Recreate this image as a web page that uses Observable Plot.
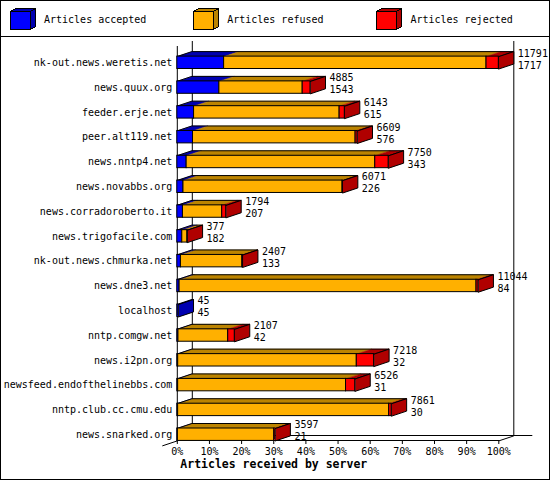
<!DOCTYPE html>
<html>
<head>
<meta charset="utf-8">
<script src="https://cdn.jsdelivr.net/npm/d3@7"></script>
<script src="https://cdn.jsdelivr.net/npm/@observablehq/plot@0.6"></script>
<style>
  html, body { margin: 0; padding: 0; background: #fff; }
  #wrap { width: 548px; height: 478px; border: 1px solid #000; background: #fff; position: relative; overflow: hidden; }
  #legend { height: 35px; border-bottom: 1px solid #000; position: relative; }
  .item svg { position: absolute; top: 6px; }
  .item span { position: absolute; top: 14px; font: 10px/10px "DejaVu Sans Mono", monospace; color: #000; white-space: pre; }
</style>
</head>
<body>
<div id="wrap">
  <div id="legend"></div>
  <div id="chart"></div>
</div>
<script>
// ---- data ----
const servers = [
  "nk-out.news.weretis.net", "news.quux.org", "feeder.erje.net", "peer.alt119.net",
  "news.nntp4.net", "news.novabbs.org", "news.corradoroberto.it", "news.trigofacile.com",
  "nk-out.news.chmurka.net", "news.dne3.net", "localhost", "nntp.comgw.net",
  "news.i2pn.org", "newsfeed.endofthelinebbs.com", "nntp.club.cc.cmu.edu", "news.snarked.org"
];
const totals   = [11791, 4885, 6143, 6609, 7750, 6071, 1794, 377, 2407, 11044, 45, 2107, 7218, 6526, 7861, 3597];
const accepted = [1717, 1543, 615, 576, 343, 226, 207, 182, 133, 84, 45, 42, 32, 31, 30, 21];
const refused  = [9624, 3056, 5338, 5963, 6917, 5835, 1440, 190, 2254, 10890, 0, 1825, 6551, 6157, 7741, 3536];
const rejected = [450, 286, 190, 70, 490, 10, 147, 5, 20, 70, 0, 240, 635, 338, 90, 40];
const seriesNames = ["Articles accepted", "Articles refused", "Articles rejected"];
const xTicks = [0, 10, 20, 30, 40, 50, 60, 70, 80, 90, 100];
const axisTitle = "Articles received by server";

// ---- style ----
const frontColors = ["#0000ff", "#ffb000", "#ff0000"];
const darkColors  = ["#0000b0", "#bc8400", "#b00000"];
const W = 548, H = 442, mL = 175.8, mR = 50.7, mT = 9, mB = 39;
const rowRange = [25.3, 397.2];
const depthPx = 15, risePx = 5, halfPx = 6.2;

// ---- legend ----
const legend = document.getElementById("legend");
seriesNames.forEach((name, k) => {
  const left = 8 + k * 183.2;
  const div = document.createElement("div");
  div.className = "item";
  div.innerHTML =
    `<svg width="30" height="24" style="left:${left}px" shape-rendering="crispEdges">
      <polygon points="1.5,4.5 21.5,4.5 26.5,1.5 6.5,1.5" fill="${darkColors[k]}" stroke="#000"/>
      <polygon points="21.5,4.5 26.5,1.5 26.5,19.5 21.5,22.5" fill="${darkColors[k]}" stroke="#000"/>
      <rect x="1.5" y="4.5" width="20" height="18" fill="${frontColors[k]}" stroke="#000"/>
    </svg><span style="left:${left + 35}px">${name}</span>`;
  legend.appendChild(div);
});

// ---- geometry derived from scales ----
const n = servers.length;
const maxTotal = d3.max(totals);
const dX = depthPx * 100 / (W - mL - mR);
const rowPx = (rowRange[1] - rowRange[0]) / (n - 1);
const dY = risePx / rowPx;
const hh = halfPx / rowPx;
const floorRow = (n - 1) + hh;

const fronts = [], tops = [], outlines = [], sides = [], labels = [];
servers.forEach((s, i) => {
  const vals = [accepted[i], refused[i], rejected[i]];
  let acc = 0, last = 0;
  const yt = i - hh, yb = i + hh;
  vals.forEach((v, k) => {
    if (v <= 0) return;
    const a = acc / maxTotal * 100, b = (acc + v) / maxTotal * 100;
    acc += v; last = k;
    fronts.push({row: i, x1: a, x2: b, fill: frontColors[k]});
    const id = `t${i}-${k}`;
    tops.push({id, x: a, y: yt, fill: darkColors[k]}, {id, x: b, y: yt, fill: darkColors[k]},
              {id, x: b + dX, y: yt - dY, fill: darkColors[k]}, {id, x: a + dX, y: yt - dY, fill: darkColors[k]});
  });
  const end = totals[i] / maxTotal * 100;
  const oid = `o${i}`;
  outlines.push({id: oid, x: 0, y: yt}, {id: oid, x: end, y: yt}, {id: oid, x: end + dX, y: yt - dY}, {id: oid, x: dX, y: yt - dY});
  const sid = `s${i}`, sf = darkColors[last];
  sides.push({id: sid, x: end, y: yt, fill: sf}, {id: sid, x: end + dX, y: yt - dY, fill: sf},
             {id: sid, x: end + dX, y: yb - dY, fill: sf}, {id: sid, x: end, y: yb, fill: sf});
  labels.push({row: i, x: end + dX, total: totals[i], acc: accepted[i]});
});

const chart = Plot.plot({
  width: W, height: H,
  marginLeft: mL, marginRight: mR, marginTop: mT, marginBottom: mB,
  style: {fontFamily: "'DejaVu Sans Mono', monospace", fontSize: "10px", background: "#fff", color: "#000", overflow: "visible"},
  x: {domain: [0, 100]},
  y: {domain: [0, n - 1], range: rowRange},
  color: {type: "identity"},
  marks: [
    // floor and walls
    Plot.frame({anchor: "bottom", dx: depthPx, dy: -risePx}),
    Plot.frame({anchor: "bottom", dx: depthPx + 18, dy: -risePx}),
    Plot.ruleX([0, 100], {dx: depthPx, dy: -risePx}),
    Plot.ruleX([0]),
    Plot.link([{x1: 100, y1: floorRow, x2: 100 + dX, y2: floorRow - dY},
               {x1: -dX, y1: floorRow + dY, x2: dX, y2: floorRow - dY}],
              {x1: "x1", y1: "y1", x2: "x2", y2: "y2", stroke: "#000"}),
    Plot.frame({anchor: "bottom"}),
    Plot.axisX({ticks: xTicks, tickFormat: d => d + "%", tickSize: 4, tickPadding: 3, label: null}),
    Plot.axisY({ticks: d3.range(n), tickFormat: i => servers[i], tickSize: 0, tickPadding: 5, label: null}),
    // bars
    Plot.line(tops, {x: "x", y: "y", z: "id", fill: "fill", stroke: "fill", strokeWidth: 0.5, curve: "linear-closed"}),
    Plot.line(outlines, {x: "x", y: "y", z: "id", fill: "none", stroke: "#000", strokeWidth: 1, curve: "linear-closed"}),
    Plot.line(sides, {x: "x", y: "y", z: "id", fill: "fill", stroke: "#000", strokeWidth: 1, curve: "linear-closed"}),
    Plot.rect(fronts, {x1: "x1", x2: "x2", y1: d => d.row - hh, y2: d => d.row + hh, fill: "fill", stroke: "#000", strokeWidth: 1}),
    // labels
    Plot.text(labels, {x: "x", y: "row", text: d => String(d.total), dx: 4, dy: -9.5, textAnchor: "start", fill: "#000"}),
    Plot.text(labels, {x: "x", y: "row", text: d => String(d.acc), dx: 4, dy: 2.5, textAnchor: "start", fill: "#000"}),
    Plot.text([axisTitle], {text: d => d, frameAnchor: "bottom-left", textAnchor: "start", dx: 3, dy: 27,
                            fontWeight: "bold", fontSize: 11.5, fill: "#000"})
  ]
});
document.getElementById("chart").appendChild(chart);
</script>
</body>
</html>
